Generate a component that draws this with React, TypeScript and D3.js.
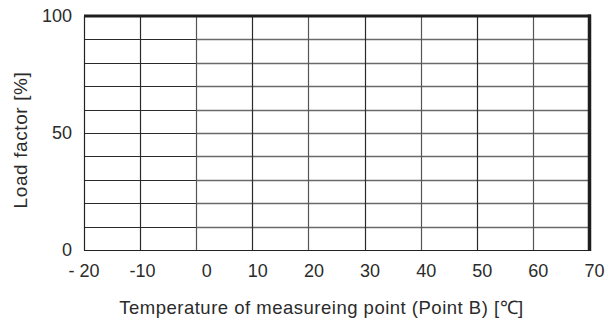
import React, { useEffect, useRef } from "react"
import * as d3 from "d3"

// axis values
const xTicks = [-20, -10, 0, 10, 20, 30, 40, 50, 60, 70]
const xTickLabels = ["- 20", "-10", "0", "10", "20", "30", "40", "50", "60", "70"]
const yGrid = [0, 10, 20, 30, 40, 50, 60, 70, 80, 90, 100]
const yTickLabels = [0, 50, 100]
const xTitle = "Temperature of measureing point (Point B) [℃]"
const yTitle = "Load factor [%]"

const W = 613
const H = 323

const App = () => {
	const ref = useRef<SVGSVGElement>(null)

	useEffect(() => {
		const svg = d3.select(ref.current)
		svg.selectAll("*").remove()

		const x = d3.scaleLinear().domain([-20, 70]).range([84, 589])
		const y = d3.scaleLinear().domain([0, 100]).range([250, 16])
		const font = "Arial, 'Liberation Sans', sans-serif"
		const textColor = "#2b2b2b"

		// horizontal grid: darker on the left part, grey on the right
		const rows = yGrid.filter(v => v > 0 && v < 100)
		svg
			.selectAll("line.hr")
			.data(rows)
			.join("line")
			.attr("x1", x(0))
			.attr("x2", x(70))
			.attr("y1", d => Math.round(y(d)) + 0.5)
			.attr("y2", d => Math.round(y(d)) + 0.5)
			.attr("stroke", "#6a6a6a")
			.attr("stroke-width", 1.3)
		svg
			.selectAll("line.hl")
			.data(rows)
			.join("line")
			.attr("x1", x(-20))
			.attr("x2", x(0))
			.attr("y1", d => Math.round(y(d)) + 0.5)
			.attr("y2", d => Math.round(y(d)) + 0.5)
			.attr("stroke", "#2a2a2a")
			.attr("stroke-width", 1.2)

		// vertical grid
		svg
			.selectAll("line.v")
			.data(xTicks.slice(1, -1))
			.join("line")
			.attr("x1", d => Math.round(x(d)) + 0.5)
			.attr("x2", d => Math.round(x(d)) + 0.5)
			.attr("y1", y(100))
			.attr("y2", y(0))
			.attr("stroke", (d, i) => (i % 2 === 0 ? "#2a2a2a" : "#555"))
			.attr("stroke-width", 1.2)

		// frame: thin left and bottom, heavy top and right
		svg
			.append("line")
			.attr("x1", x(-20) + 0.5)
			.attr("x2", x(-20) + 0.5)
			.attr("y1", y(100))
			.attr("y2", y(0) + 0.5)
			.attr("stroke", "#222")
			.attr("stroke-width", 1.2)
		svg
			.append("line")
			.attr("x1", x(-20))
			.attr("x2", x(70))
			.attr("y1", y(0) + 0.5)
			.attr("y2", y(0) + 0.5)
			.attr("stroke", "#222")
			.attr("stroke-width", 1.2)
		svg
			.append("line")
			.attr("x1", x(-20))
			.attr("x2", x(70) + 2)
			.attr("y1", y(100))
			.attr("y2", y(100))
			.attr("stroke", "#1e1e1e")
			.attr("stroke-width", 3)
		svg
			.append("line")
			.attr("x1", x(70) + 0.5)
			.attr("x2", x(70) + 0.5)
			.attr("y1", y(100) - 1.5)
			.attr("y2", y(0) + 1)
			.attr("stroke", "#1e1e1e")
			.attr("stroke-width", 3.5)

		// tick labels (right-aligned a little past each grid line, as in the source)
		svg
			.selectAll("text.xt")
			.data(xTicks)
			.join("text")
			.attr("x", d => x(d) + 15.5)
			.attr("y", 277)
			.attr("text-anchor", "end")
			.style("font-family", font)
			.style("font-size", "18px")
			.attr("fill", textColor)
			.text((d, i) => xTickLabels[i])

		svg
			.selectAll("text.yt")
			.data(yTickLabels)
			.join("text")
			.attr("x", 72)
			.attr("y", d => y(d) + 6)
			.attr("text-anchor", "end")
			.style("font-family", font)
			.style("font-size", "18px")
			.attr("fill", textColor)
			.text(d => d)

		// axis titles
		svg
			.append("text")
			.attr("x", 321.5)
			.attr("y", 314)
			.attr("text-anchor", "middle")
			.style("font-family", font)
			.style("font-size", "18.5px")
			.style("letter-spacing", "0.5px")
			.attr("fill", textColor)
			.text(xTitle)

		svg
			.append("text")
			.attr("transform", `translate(27, 140) rotate(-90)`)
			.attr("text-anchor", "middle")
			.style("font-family", font)
			.style("font-size", "19px")
			.style("letter-spacing", "0.6px")
			.attr("fill", textColor)
			.text(yTitle)
	}, [])

	return (
		<svg
			ref={ref}
			width={W}
			height={H}
			style={{ position: "absolute", left: 0, top: 0, background: "#fff" }}
		/>
	)
}

export default App
